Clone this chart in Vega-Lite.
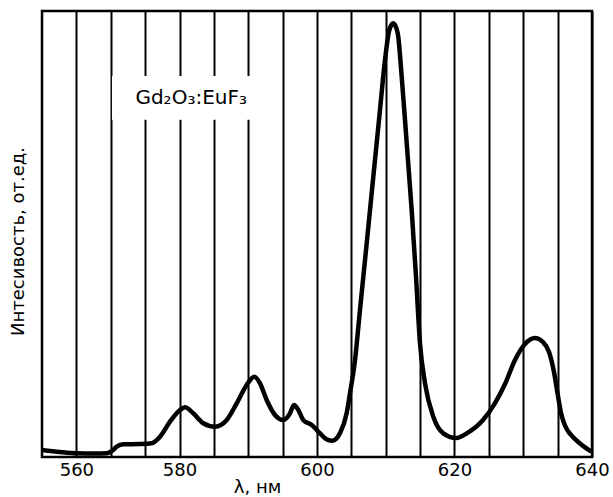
{
  "$schema": "https://vega.github.io/schema/vega-lite/v6.json",
  "width": 550,
  "height": 446,
  "autosize": {"type": "none"},
  "padding": {"left": 42, "top": 11, "right": 21, "bottom": 40},
  "background": "white",
  "config": {
    "view": {"stroke": "#000", "strokeWidth": 2.5},
    "font": "DejaVu Sans"
  },
  "datasets": {
    "spectrum": [
      {"nm": 553.33, "v": 0.0157},
      {"nm": 556.83, "v": 0.0112},
      {"nm": 560.06, "v": 0.0083},
      {"nm": 563.6, "v": 0.0078},
      {"nm": 565.88, "v": 0.0083},
      {"nm": 566.9, "v": 0.0135},
      {"nm": 567.82, "v": 0.0231},
      {"nm": 569.1, "v": 0.0285},
      {"nm": 572.34, "v": 0.0291},
      {"nm": 574.61, "v": 0.0307},
      {"nm": 575.25, "v": 0.0348},
      {"nm": 576.22, "v": 0.0455},
      {"nm": 578.16, "v": 0.0791},
      {"nm": 580.07, "v": 0.1054},
      {"nm": 580.8, "v": 0.1114},
      {"nm": 582.0, "v": 0.098},
      {"nm": 583.46, "v": 0.0756},
      {"nm": 585.16, "v": 0.0679},
      {"nm": 586.87, "v": 0.083},
      {"nm": 588.32, "v": 0.1204},
      {"nm": 589.77, "v": 0.1614},
      {"nm": 590.88, "v": 0.18},
      {"nm": 591.71, "v": 0.1652},
      {"nm": 592.68, "v": 0.1278},
      {"nm": 593.89, "v": 0.0942},
      {"nm": 595.1, "v": 0.083},
      {"nm": 596.07, "v": 0.098},
      {"nm": 596.65, "v": 0.1166},
      {"nm": 597.28, "v": 0.1054},
      {"nm": 598.0, "v": 0.083},
      {"nm": 599.23, "v": 0.0717},
      {"nm": 600.44, "v": 0.0531},
      {"nm": 601.31, "v": 0.0404},
      {"nm": 602.14, "v": 0.0365},
      {"nm": 602.76, "v": 0.0404},
      {"nm": 603.35, "v": 0.0538},
      {"nm": 604.32, "v": 0.0987},
      {"nm": 604.8, "v": 0.1428},
      {"nm": 605.53, "v": 0.2175},
      {"nm": 606.25, "v": 0.3296},
      {"nm": 607.23, "v": 0.4791},
      {"nm": 608.19, "v": 0.6285},
      {"nm": 609.16, "v": 0.778},
      {"nm": 609.89, "v": 0.8901},
      {"nm": 610.52, "v": 0.9574},
      {"nm": 611.1, "v": 0.9724},
      {"nm": 611.74, "v": 0.95},
      {"nm": 612.32, "v": 0.8527},
      {"nm": 613.05, "v": 0.7034},
      {"nm": 613.77, "v": 0.5538},
      {"nm": 614.4, "v": 0.4043},
      {"nm": 614.98, "v": 0.2549},
      {"nm": 615.71, "v": 0.1652},
      {"nm": 616.92, "v": 0.0904},
      {"nm": 618.37, "v": 0.0531},
      {"nm": 620.22, "v": 0.0426},
      {"nm": 621.78, "v": 0.0531},
      {"nm": 624.15, "v": 0.083},
      {"nm": 625.89, "v": 0.121},
      {"nm": 627.35, "v": 0.1637},
      {"nm": 628.8, "v": 0.2175},
      {"nm": 630.25, "v": 0.2534},
      {"nm": 631.71, "v": 0.2668},
      {"nm": 632.87, "v": 0.2578},
      {"nm": 633.75, "v": 0.2354},
      {"nm": 634.47, "v": 0.1906},
      {"nm": 635.05, "v": 0.1368},
      {"nm": 635.49, "v": 0.0987},
      {"nm": 635.93, "v": 0.0762},
      {"nm": 636.36, "v": 0.0617},
      {"nm": 636.76, "v": 0.0531},
      {"nm": 638.21, "v": 0.0307},
      {"nm": 639.9, "v": 0.0119}
    ],
    "label": [
      {"text": "Gd₂O₃:EuF₃", "from": 566.9, "to": 591.4, "low": 0.756, "high": 0.854, "at": 581.7, "level": 0.805}
    ]
  },
  "layer": [
    {
      "data": {"name": "label"},
      "mark": {"type": "rect", "fill": "white", "strokeWidth": 0},
      "encoding": {
        "x": {
          "field": "from",
          "type": "quantitative",
          "scale": {"domain": [553.333, 560, 580, 640], "range": [0, 34.375, 137.5, 550], "nice": false, "zero": false},
          "axis": {
            "values": [560, 566.667, 573.333, 580, 585, 590, 595, 600, 605, 610, 615, 620, 625, 630, 635, 640],
            "tickCount": 40,
            "format": "d",
            "labelExpr": "datum.value % 20 == 0 ? datum.label : ''",
            "grid": true,
            "gridColor": "#000",
            "gridWidth": 2,
            "gridOpacity": 1,
            "ticks": false,
            "domain": false,
            "labelFont": "DejaVu Sans",
            "labelFontSize": 18,
            "labelColor": "#000",
            "labelPadding": 4,
            "labelFlush": false,
            "labelOverlap": false,
            "title": "λ, нм",
            "titleFont": "DejaVu Sans",
            "titleFontSize": 18,
            "titleFontWeight": "normal",
            "titleColor": "#000",
            "titleX": 215,
            "titleY": 30,
            "titleAlign": "center",
            "titleBaseline": "middle"
          }
        },
        "x2": {"field": "to"},
        "y": {
          "field": "low",
          "type": "quantitative",
          "scale": {"domain": [0, 1], "nice": false},
          "axis": {
            "labels": false,
            "ticks": false,
            "domain": false,
            "grid": false,
            "title": "Интесивость, от.ед.",
            "titleFont": "DejaVu Sans",
            "titleFontSize": 18,
            "titleFontWeight": "normal",
            "titleColor": "#000",
            "titleX": -24,
            "titleY": 230,
            "titleAngle": -90,
            "titleAlign": "center",
            "titleBaseline": "middle"
          }
        },
        "y2": {"field": "high"}
      }
    },
    {
      "data": {"name": "spectrum"},
      "mark": {"type": "line", "color": "#000", "strokeWidth": 4.5, "interpolate": "monotone", "clip": true},
      "encoding": {
        "x": {"field": "nm", "type": "quantitative"},
        "y": {"field": "v", "type": "quantitative"}
      }
    },
    {
      "data": {"name": "label"},
      "mark": {"type": "text", "font": "DejaVu Sans", "fontSize": 20, "color": "#000", "align": "center", "baseline": "middle"},
      "encoding": {
        "x": {"field": "at", "type": "quantitative"},
        "y": {"field": "level", "type": "quantitative"},
        "text": {"field": "text", "type": "nominal"}
      }
    }
  ]
}
